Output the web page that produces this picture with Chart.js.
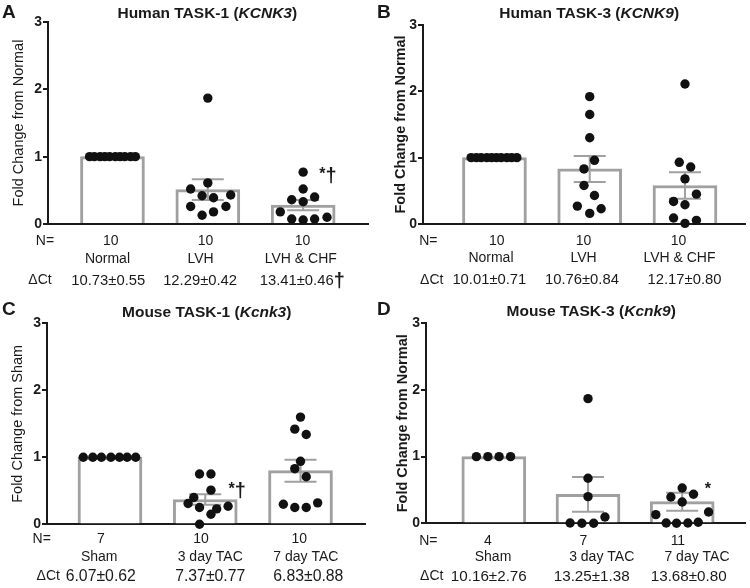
<!DOCTYPE html>
<html>
<head>
<meta charset="utf-8">
<script src="https://cdn.jsdelivr.net/npm/chart.js@4.4.1/dist/chart.umd.min.js"></script>
<style>
  html, body { margin: 0; padding: 0; background: #fff; }
  .grid { display: grid; grid-template-columns: 375px 375px; grid-template-rows: 294px 294px; width: 750px; height: 588px; }
  canvas { display: block; }
</style>
</head>
<body>
<div class="grid">
  <canvas id="panelA" width="375" height="294"></canvas>
  <canvas id="panelB" width="375" height="294"></canvas>
  <canvas id="panelC" width="375" height="294"></canvas>
  <canvas id="panelD" width="375" height="294"></canvas>
</div>
<script>
// Shared labels
const humanGroups = ["Normal", "LVH", "LVH & CHF"]
const mouseGroups = ["Sham", "3 day TAC", "7 day TAC"]
const yTickValues = [0, 1, 2, 3]

// A - Human TASK-1 (KCNK3)
const aCounts = [10, 10, 10]
const aDeltaCt = ["10.73±0.55", "12.29±0.42", "13.41±0.46"]
const aMeans = [1.0, 0.51, 0.28]
const aSem = [0, 0.155, 0.075]
const aPoints = [
  [1, 1, 1, 1, 1, 1, 1, 1, 1, 1],
  [1.87, 0.52, 0.61, 0.42, 0.39, 0.43, 0.26, 0.26, 0.13, 0.18],
  [0.77, 0.52, 0.36, 0.33, 0.40, 0.18, 0.075, 0.06, 0.075, 0.10]
]
const aJitter = [
  [-0.24, -0.19, -0.13, -0.08, -0.03, 0.03, 0.08, 0.13, 0.19, 0.24],
  [0, -0.18, 0, -0.06, 0.06, 0.24, -0.18, 0.19, -0.06, 0.06],
  [0, 0, -0.12, 0, 0.12, -0.24, -0.12, 0, 0.12, 0.25]
]

// B - Human TASK-3 (KCNK9)
const bCounts = [10, 10, 10]
const bDeltaCt = ["10.01±0.71", "10.76±0.84", "12.17±0.80"]
const bMeans = [1.0, 0.83, 0.58]
const bSem = [0, 0.195, 0.2]
const bPoints = [
  [1, 1, 1, 1, 1, 1, 1, 1, 1, 1],
  [1.92, 1.65, 1.30, 0.96, 0.83, 0.58, 0.43, 0.27, 0.16, 0.23],
  [2.11, 0.93, 0.86, 0.68, 0.45, 0.34, 0.29, 0.09, 0.01, 0.055]
]
const bJitter = [
  [-0.245, -0.19, -0.14, -0.08, -0.03, 0.02, 0.07, 0.13, 0.18, 0.235],
  [0, 0, 0, 0.05, -0.06, -0.06, 0.05, -0.13, 0, 0.12],
  [0, -0.06, 0.06, 0, 0.12, -0.12, 0, -0.12, 0, 0.12]
]

// C - Mouse TASK-1 (Kcnk3)
const cCounts = [7, 10, 10]
const cDeltaCt = ["6.07±0.62", "7.37±0.77", "6.83±0.88"]
const cMeans = [1.0, 0.37, 0.80]
const cSem = [0, 0.08, 0.165]
const cPoints = [
  [1, 1, 1, 1, 1, 1, 1],
  [0.75, 0.75, 0.51, 0.40, 0.31, 0.25, 0.23, 0.27, 0.15, 0.0],
  [1.60, 1.42, 1.34, 0.94, 0.83, 0.71, 0.30, 0.25, 0.25, 0.32]
]
const cJitter = [
  [-0.28, -0.18, -0.09, 0.01, 0.10, 0.18, 0.27],
  [-0.06, 0.06, 0.06, -0.12, -0.18, -0.06, 0.12, 0.24, 0.06, -0.06],
  [0, -0.06, 0.06, 0, -0.06, 0.06, -0.18, -0.06, 0.06, 0.18]
]

// D - Mouse TASK-3 (Kcnk9)
const dCounts = [4, 7, 11]
const dDeltaCt = ["10.16±2.76", "13.25±1.38", "13.68±0.80"]
const dMeans = [1.0, 0.435, 0.325]
const dSem = [0, 0.26, 0.135]
const dPoints = [
  [1, 1, 1, 1],
  [1.87, 0.675, 0.40, 0.095, 0.005, 0, 0],
  [0.53, 0.395, 0.435, 0.32, 0.13, 0.17, 0.005, 0, 0.005, 0.015]
]
const dJitter = [
  [-0.185, -0.063, 0.056, 0.178],
  [0, 0, 0, 0.18, -0.19, -0.065, 0.06],
  [0, -0.12, 0.12, 0, -0.28, 0.28, -0.17, -0.06, 0.06, 0.17]
]

const FONT = '"Liberation Sans", Arial, Helvetica, sans-serif'
const GRAY = "#a0a0a0"
const INK = "#1a1a1a"

// Error bars + text around the plot
const panelDecor = {
  id: "panelDecor",
  afterDatasetDraw(chart, args, opts) {
    if (args.meta.type !== "bar") return
    const { ctx } = chart
    const xs = chart.scales.x
    const ys = chart.scales.y
    ctx.save()
    ctx.strokeStyle = GRAY
    ctx.lineWidth = 2
    opts.means.forEach((m, i) => {
      const s = opts.sem[i]
      if (!s) return
      const cx = xs.getPixelForValue(i)
      const hi = ys.getPixelForValue(m + s)
      const lo = ys.getPixelForValue(m - s)
      ctx.beginPath()
      ctx.moveTo(cx, hi); ctx.lineTo(cx, lo)
      ctx.moveTo(cx - 16, hi); ctx.lineTo(cx + 16, hi)
      ctx.moveTo(cx - 16, lo); ctx.lineTo(cx + 16, lo)
      ctx.stroke()
    })
    ctx.restore()
  },
  afterDraw(chart, args, o) {
    const { ctx } = chart
    const xs = chart.scales.x
    const ys = chart.scales.y
    ctx.save()
    ctx.fillStyle = INK

    // panel letter
    ctx.textAlign = "left"
    ctx.textBaseline = "alphabetic"
    ctx.font = `bold 19px ${FONT}`
    ctx.fillText(o.letter, 2, o.letterY)

    // title with italic gene name
    ctx.textBaseline = "middle"
    const parts = [[o.title[0], "bold"], [o.title[1], "italic bold"], [o.title[2], "bold"]]
    let total = 0
    parts.forEach(p => { ctx.font = `${p[1]} 15.5px ${FONT}`; total += ctx.measureText(p[0]).width })
    let tx = o.titleX - total / 2
    parts.forEach(p => {
      ctx.font = `${p[1]} 15.5px ${FONT}`
      ctx.fillText(p[0], tx, o.titleY)
      tx += ctx.measureText(p[0]).width
    })

    // rows under the axis
    ctx.textAlign = "center"
    ctx.font = `14px ${FONT}`
    ctx.fillText("N=", o.nLabelX, o.rowY[0])
    ctx.fillText("ΔCt", o.ctLabelX, o.rowY[2])
    o.counts.forEach((n, i) => {
      ctx.fillText(String(n), xs.getPixelForValue(i) + o.nShift[i], o.rowY[0])
    })
    o.groups.forEach((g, i) => {
      ctx.fillText(g, xs.getPixelForValue(i) + o.labelShift[i], o.rowY[1])
    })
    ctx.font = `${o.ctFont}px ${FONT}`
    o.deltaCt.forEach((t, i) => {
      const cx = xs.getPixelForValue(i) + o.ctShift[i]
      ctx.fillText(t, cx, o.rowY[2])
      if (o.ctMark[i]) {
        const w = ctx.measureText(t).width
        ctx.save()
        ctx.textAlign = "left"
        ctx.textBaseline = "alphabetic"
        ctx.font = `bold 20px ${FONT}`
        ctx.fillText(o.ctMark[i], cx + w / 2, o.rowY[2] + 6)
        ctx.restore()
      }
    })

    // significance marks
    ctx.textAlign = "left"
    ctx.textBaseline = "alphabetic"
    o.marks.forEach(mk => {
      let mx = xs.getPixelForValue(mk.x)
      const my = ys.getPixelForValue(mk.y)
      ctx.font = `bold 16px ${FONT}`
      ctx.fillText("*", mx, my)
      mx += ctx.measureText("*").width
      if (mk.dagger) {
        ctx.font = `bold 20px ${FONT}`
        ctx.fillText("†", mx, my + 3)
      }
    })
    ctx.restore()
  }
}

function makePanel(id, groups, counts, deltaCt, means, sem, points, jitter, L) {
  const scatter = []
  points.forEach((vals, g) => {
    vals.forEach((v, k) => scatter.push({ x: g + jitter[g][k], y: v }))
  })
  const bars = means.map((m, i) => ({ x: i, y: m }))

  return new Chart(document.getElementById(id), {
    type: "bar",
    data: {
      datasets: [
        {
          type: "scatter",
          data: scatter,
          order: 0,
          clip: false,
          backgroundColor: "#111",
          borderWidth: 0,
          pointRadius: 4.7
        },
        {
          type: "bar",
          data: bars,
          order: 1,
          backgroundColor: "#fff",
          borderColor: GRAY,
          borderWidth: 3,
          borderSkipped: "bottom",
          barThickness: 64
        }
      ]
    },
    options: {
      responsive: false,
      animation: false,
      events: [],
      layout: {
        padding: { left: 0, top: L.top, right: 375 - L.right, bottom: 294 - L.bottom }
      },
      plugins: {
        legend: { display: false },
        tooltip: { enabled: false },
        panelDecor: {
          letter: L.letter, letterY: L.letterY,
          title: L.title, titleX: L.titleX, titleY: L.titleY,
          groups, counts, deltaCt, means, sem,
          rowY: L.rowY, nLabelX: L.nLabelX, ctLabelX: L.ctLabelX,
          nShift: L.nShift, labelShift: L.labelShift, ctShift: L.ctShift,
          ctFont: L.ctFont, ctMark: L.ctMark || [], marks: L.marks
        }
      },
      scales: {
        x: {
          type: "linear",
          min: L.xMin,
          max: L.xMax,
          offset: false,
          z: 1,
          ticks: { display: false },
          grid: { drawOnChartArea: false, drawTicks: false, offset: false },
          border: { color: INK, width: 2 },
          afterFit: s => { s.height = 0 }
        },
        y: {
          min: 0,
          max: 3,
          afterBuildTicks: s => { s.ticks = yTickValues.map(v => ({ value: v })) },
          ticks: {
            padding: 1,
            color: INK,
            font: { family: FONT, size: 14, weight: "bold" }
          },
          grid: { drawOnChartArea: false, drawTicks: true, tickLength: 5, color: INK, lineWidth: 2 },
          border: { color: INK, width: 2 },
          title: {
            display: true,
            text: L.yTitle,
            color: INK,
            padding: { top: L.yTitlePad, bottom: 0 },
            font: { family: FONT, size: 14.5, weight: L.yTitleBold ? "bold" : "normal" }
          },
          afterFit: s => { s.width = L.left }
        }
      }
    },
    plugins: [panelDecor]
  })
}

makePanel("panelA", humanGroups, aCounts, aDeltaCt, aMeans, aSem, aPoints, aJitter, {
  letter: "A", letterY: 18.3,
  title: ["Human TASK-1 (", "KCNK3", ")"], titleX: 207.3, titleY: 13.3,
  left: 48, top: 22, bottom: 224, right: 368, xMin: -0.676, xMax: 2.68,
  yTitle: "Fold Change from Normal", yTitlePad: 10.3, yTitleBold: false,
  rowY: [241, 258.7, 280.5], nLabelX: 45, ctLabelX: 40,
  nShift: [-1.7, -2.2, -0.7], labelShift: [-5, -7.2, -2.4], ctShift: [-4.2, -7.7, -6.5],
  ctFont: 14.8, ctMark: ["", "", "†"],
  marks: [{ x: 2.17, y: 0.67, dagger: true }]
})

makePanel("panelB", humanGroups, bCounts, bDeltaCt, bMeans, bSem, bPoints, bJitter, {
  letter: "B", letterY: 18.3,
  title: ["Human TASK-3 (", "KCNK9", ")"], titleX: 214.2, titleY: 13.3,
  left: 48, top: 25, bottom: 224, right: 370, xMin: -0.75, xMax: 2.63,
  yTitle: "Fold Change from Normal", yTitlePad: 17.3, yTitleBold: true,
  rowY: [241, 258.5, 280], nLabelX: 53.3, ctLabelX: 56.7,
  nShift: [2.4, -6.2, -6.4], labelShift: [-3.5, -6.2, -5.5], ctShift: [-5.1, -7.8, -0.5],
  ctFont: 14.8,
  marks: []
})

makePanel("panelC", mouseGroups, cCounts, cDeltaCt, cMeans, cSem, cPoints, cJitter, {
  letter: "C", letterY: 21,
  title: ["Mouse TASK-1 (", "Kcnk3", ")"], titleX: 206.7, titleY: 18.4,
  left: 47, top: 29.3, bottom: 230.3, right: 365, xMin: -0.661, xMax: 2.677,
  yTitle: "Fold Change from Sham", yTitlePad: 8.8, yTitleBold: false,
  rowY: [245.3, 263, 282.5], nLabelX: 41.7, ctLabelX: 48.3,
  nShift: [-9.2, -4.2, -1.3], labelShift: [-10.8, 5, 5.3], ctShift: [-9.2, 5, 7.8],
  ctFont: 15.8,
  marks: [{ x: 1.245, y: 0.45, dagger: true }]
})

makePanel("panelD", mouseGroups, dCounts, dDeltaCt, dMeans, dSem, dPoints, dJitter, {
  letter: "D", letterY: 21,
  title: ["Mouse TASK-3 (", "Kcnk9", ")"], titleX: 216.2, titleY: 17.7,
  left: 51, top: 29.3, bottom: 229.3, right: 375, xMin: -0.72, xMax: 2.67,
  yTitle: "Fold Change from Normal", yTitlePad: 18.8, yTitleBold: true,
  rowY: [246.7, 263, 282.5], nLabelX: 53.3, ctLabelX: 56.7,
  nShift: [-5.8, -4.7, -4.3], labelShift: [-0.8, 13.7, 14.8], ctShift: [-5, 3.7, 6.5],
  ctFont: 15.2,
  marks: [{ x: 2.24, y: 0.44, dagger: false }]
})
</script>
</body>
</html>
